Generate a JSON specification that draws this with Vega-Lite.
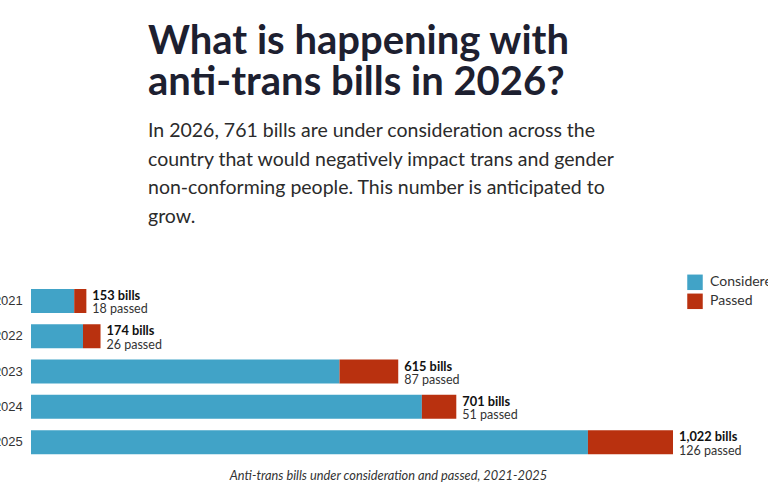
{
  "$schema": "https://vega.github.io/schema/vega-lite/v6.json",
  "width": 642,
  "height": 176.5,
  "autosize": {"type": "none"},
  "padding": {"left": 31, "top": 283.3, "right": 95, "bottom": 27.2},
  "background": "white",
  "config": {"view": {"stroke": null}},
  "title": {
    "text": ["What is happening with", "anti-trans bills in 2026?"],
    "subtitle": [
      "In 2026, 761 bills are under consideration across the",
      "country that would negatively impact trans and gender",
      "non-conforming people. This number is anticipated to",
      "grow."
    ],
    "anchor": "start",
    "frame": "group",
    "dx": 117,
    "offset": 48,
    "font": "Lato",
    "fontSize": 40,
    "fontWeight": "bold",
    "lineHeight": 41,
    "color": "#1d2030",
    "subtitleFont": "Lato",
    "subtitleFontSize": 19.5,
    "subtitleLineHeight": 28.5,
    "subtitleColor": "#2b2b2b",
    "subtitlePadding": 19
  },
  "datasets": {
    "segments": [
      {"year": "2021", "status": "Considered", "count": 135},
      {"year": "2021", "status": "Passed", "count": 18},
      {"year": "2022", "status": "Considered", "count": 148},
      {"year": "2022", "status": "Passed", "count": 26},
      {"year": "2023", "status": "Considered", "count": 528},
      {"year": "2023", "status": "Passed", "count": 87},
      {"year": "2024", "status": "Considered", "count": 650},
      {"year": "2024", "status": "Passed", "count": 51},
      {"year": "2025", "status": "Considered", "count": 896},
      {"year": "2025", "status": "Passed", "count": 126}
    ],
    "labels": [
      {"year": "2021", "total": 153, "totalLabel": "153 bills", "passedLabel": "18 passed"},
      {"year": "2022", "total": 174, "totalLabel": "174 bills", "passedLabel": "26 passed"},
      {"year": "2023", "total": 615, "totalLabel": "615 bills", "passedLabel": "87 passed"},
      {"year": "2024", "total": 701, "totalLabel": "701 bills", "passedLabel": "51 passed"},
      {"year": "2025", "total": 1022, "totalLabel": "1,022 bills", "passedLabel": "126 passed"}
    ]
  },
  "encoding": {
    "y": {
      "field": "year",
      "type": "nominal",
      "scale": {"paddingInner": 0.32, "paddingOuter": 0.16},
      "axis": {
        "title": null,
        "ticks": false,
        "tickSize": 0,
        "domain": false,
        "labelPadding": 8.7,
        "labelFont": "Liberation Sans",
        "labelFontSize": 13,
        "labelColor": "#333333",
        "labelLimit": 0
      }
    }
  },
  "layer": [
    {
      "data": {"name": "segments"},
      "mark": {"type": "bar", "clip": true},
      "encoding": {
        "x": {
          "field": "count",
          "type": "quantitative",
          "stack": "zero",
          "scale": {"domain": [71, 1022], "zero": false, "nice": false},
          "axis": {
            "labels": false, "ticks": false, "domain": false, "grid": false,
            "title": "Anti-trans bills under consideration and passed, 2021-2025",
            "titleFont": "Lato", "titleFontStyle": "italic", "titleFontWeight": "normal",
            "titleFontSize": 12.8, "titleColor": "#333333",
            "titleX": 357, "titleY": 9.5, "titleAlign": "center", "titleBaseline": "top"
          }
        },
        "color": {
          "field": "status",
          "type": "nominal",
          "scale": {"domain": ["Considered", "Passed"], "range": ["#41a3c7", "#b9310f"]},
          "legend": {
            "title": null,
            "orient": "none",
            "legendX": 656,
            "legendY": -9,
            "symbolType": "square",
            "symbolSize": 240,
            "symbolStrokeWidth": 0,
            "symbolOpacity": 1,
            "labelFont": "Lato",
            "labelFontSize": 14,
            "labelColor": "#333333",
            "labelOffset": 7,
            "rowPadding": 3,
            "padding": 0,
            "labelLimit": 0
          }
        }
      }
    },
    {
      "data": {"name": "labels"},
      "mark": {"type": "text", "align": "left", "baseline": "middle", "dx": 6, "dy": -5, "font": "Lato", "fontSize": 12.8, "fontWeight": "bold", "color": "#111111"},
      "encoding": {
        "x": {
          "field": "total",
          "type": "quantitative",
          "scale": {"domain": [71, 1022], "zero": false, "nice": false},
          "axis": {
            "labels": false, "ticks": false, "domain": false, "grid": false,
            "title": "Anti-trans bills under consideration and passed, 2021-2025",
            "titleFont": "Lato", "titleFontStyle": "italic", "titleFontWeight": "normal",
            "titleFontSize": 12.8, "titleColor": "#333333",
            "titleX": 357, "titleY": 9.5, "titleAlign": "center", "titleBaseline": "top"
          }
        },
        "text": {"field": "totalLabel", "type": "nominal"}
      }
    },
    {
      "data": {"name": "labels"},
      "mark": {"type": "text", "align": "left", "baseline": "middle", "dx": 6, "dy": 8.5, "font": "Lato", "fontSize": 12.5, "fontWeight": "normal", "color": "#333333"},
      "encoding": {
        "x": {
          "field": "total",
          "type": "quantitative",
          "scale": {"domain": [71, 1022], "zero": false, "nice": false},
          "axis": {
            "labels": false, "ticks": false, "domain": false, "grid": false,
            "title": "Anti-trans bills under consideration and passed, 2021-2025",
            "titleFont": "Lato", "titleFontStyle": "italic", "titleFontWeight": "normal",
            "titleFontSize": 12.8, "titleColor": "#333333",
            "titleX": 357, "titleY": 9.5, "titleAlign": "center", "titleBaseline": "top"
          }
        },
        "text": {"field": "passedLabel", "type": "nominal"}
      }
    }
  ]
}
